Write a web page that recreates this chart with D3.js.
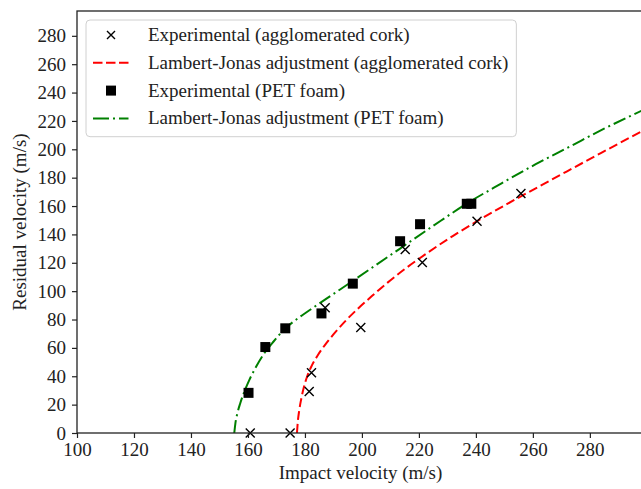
<!DOCTYPE html>
<html>
<head>
<meta charset="utf-8">
<script src="https://cdn.jsdelivr.net/npm/d3@7"></script>
<style>
  body { margin: 0; background: #fff; }
  svg text { font-family: "Liberation Serif", "Times New Roman", Times, "DejaVu Serif", serif; fill: #222; }
</style>
</head>
<body>
<div id="chart"></div>
<script>
// valeurs
var xTicks = [100, 120, 140, 160, 180, 200, 220, 240, 260, 280];
var yTicks = [0, 20, 40, 60, 80, 100, 120, 140, 160, 180, 200, 220, 240, 260, 280];

// experimental points (impact, residual)
var corkExp = [[160.8, 0], [174.8, 0], [181.5, 29.3], [182.3, 42.5], [187.1, 88.3],
  [199.6, 74.4], [215.2, 129.3], [221.2, 120.2], [240.4, 149.3], [255.8, 168.8]];
var petExp = [[160.2, 28.3], [166.1, 60.6], [173.1, 73.8], [185.8, 84.3], [196.8, 105.3],
  [213.4, 135.2], [220.4, 147.2], [236.8, 161.6], [238.4, 161.6]];

// Lambert-Jonas curves, points
var corkFit = [[177.2, 0], [177.5, 8], [178, 16], [178.7, 24], [179.6, 32], [180.8, 40],
  [182.4, 47.5], [184.4, 54.5], [187, 62], [190, 69.5], [194, 78.5], [198.5, 87.5],
  [203.5, 96.5], [209, 106], [215, 115.5], [223, 127], [232, 139], [241, 150],
  [251, 161.5], [261, 172.5], [272, 184.5], [284, 197.5], [299, 213.5]];
var petFit = [[155.2, 0], [155.6, 7], [156.3, 14], [157.3, 21], [158.7, 29], [160.5, 37.5],
  [162.8, 46.5], [165.5, 55.5], [169, 64.5], [173, 73.5], [178, 81.5], [183, 88.5],
  [190, 98], [197, 107.5], [205, 118.5], [213, 129.5], [225, 146], [237, 162],
  [249, 176], [261, 189.5], [273, 202], [285, 214.5], [299, 228]];

var legendLabels = ["Experimental (agglomerated cork)", "Lambert-Jonas adjustment (agglomerated cork)",
  "Experimental (PET foam)", "Lambert-Jonas adjustment (PET foam)"];

var W = 641, H = 489;
var margin = {top: 11, left: 77, bottom: 56};
var plotRight = 644; // le cadre depasse l'image a droite
var serif = "'Liberation Serif', 'Times New Roman', Times, 'DejaVu Serif', serif";
var fs = 19;

var x = d3.scaleLinear().domain([100, 299]).range([margin.left, plotRight]);
var y = d3.scaleLinear().domain([0, 297.5]).range([H - margin.bottom, margin.top]);

var svg = d3.select("#chart").append("svg")
  .attr("width", W).attr("height", H)
  .attr("font-family", serif)
  .style("display", "block");

var ink = "#222";

// curves
var line = d3.line()
  .x(function(d) { return x(d[0]); })
  .y(function(d) { return y(d[1]); })
  .curve(d3.curveMonotoneX);

svg.append("path").datum(petFit)
  .attr("d", line).attr("fill", "none")
  .attr("stroke", "#008000").attr("stroke-width", 2)
  .attr("stroke-dasharray", "13,4,2,4");

svg.append("path").datum(corkFit)
  .attr("d", line).attr("fill", "none")
  .attr("stroke", "#ff0000").attr("stroke-width", 2)
  .attr("stroke-dasharray", "9,4");

// markers
function cross(g, cx, cy, r) {
  g.append("path")
    .attr("d", "M" + (cx - r) + "," + (cy - r) + "L" + (cx + r) + "," + (cy + r) +
      "M" + (cx - r) + "," + (cy + r) + "L" + (cx + r) + "," + (cy - r))
    .attr("stroke", "#000").attr("stroke-width", 1.4).attr("fill", "none");
}

var sq = 10;
svg.append("g").selectAll("rect").data(petExp).enter().append("rect")
  .attr("x", function(d) { return x(d[0]) - sq / 2; })
  .attr("y", function(d) { return y(d[1]) - sq / 2; })
  .attr("width", sq).attr("height", sq).attr("fill", "#000");

var gx = svg.append("g");
corkExp.forEach(function(d) { cross(gx, x(d[0]), y(d[1]), 4.5); });

// axes
var xAxis = d3.axisBottom(x).tickValues(xTicks).tickSize(5).tickPadding(5).tickFormat(d3.format("d"));
var yAxis = d3.axisLeft(y).tickValues(yTicks).tickSize(5).tickPadding(6).tickFormat(d3.format("d"));

var gxa = svg.append("g").attr("transform", "translate(0," + y(0) + ")").call(xAxis);
var gya = svg.append("g").attr("transform", "translate(" + margin.left + ",0)").call(yAxis);
[gxa, gya].forEach(function(g) {
  g.attr("font-family", serif).attr("font-size", fs);
  g.select(".domain").remove();
  g.selectAll(".tick line").attr("stroke", ink).attr("stroke-width", 1.2);
  g.selectAll(".tick text").attr("fill", ink);
});

// cadre (haut, gauche, bas, droite)
svg.append("rect")
  .attr("x", margin.left).attr("y", y.range()[1])
  .attr("width", plotRight - margin.left).attr("height", y.range()[0] - y.range()[1])
  .attr("fill", "none").attr("stroke", ink).attr("stroke-width", 1.3);

// axis titles
svg.append("text")
  .attr("x", (margin.left + plotRight) / 2).attr("y", 479)
  .attr("text-anchor", "middle").attr("font-size", fs)
  .text("Impact velocity (m/s)");

svg.append("text")
  .attr("transform", "translate(26," + ((y.range()[0] + y.range()[1]) / 2) + ") rotate(-90)")
  .attr("text-anchor", "middle").attr("font-size", fs)
  .text("Residual velocity (m/s)");

// legend
var lg = svg.append("g");
var lx = 86, ly = 20, rowH = 27.8, textX = 148;
var box = lg.append("rect")
  .attr("x", lx).attr("y", ly).attr("rx", 4).attr("ry", 4)
  .attr("fill", "#fff").attr("fill-opacity", 0.9)
  .attr("stroke", "#d0d0d0").attr("stroke-width", 1);

var maxW = 0;
legendLabels.forEach(function(lab, i) {
  var cy = ly + 15 + i * rowH;
  var t = lg.append("text").attr("x", textX).attr("y", cy + 6)
    .attr("font-size", fs).text(lab);
  maxW = Math.max(maxW, t.node().getComputedTextLength());
  if (i === 0) cross(lg, 111, cy, 4);
  if (i === 1) lg.append("line").attr("x1", 93).attr("x2", 128.5).attr("y1", cy).attr("y2", cy)
    .attr("stroke", "#ff0000").attr("stroke-width", 2).attr("stroke-dasharray", "9.5,3.5");
  if (i === 2) lg.append("rect").attr("x", 111 - 5).attr("y", cy - 5)
    .attr("width", 10).attr("height", 10).attr("fill", "#000");
  if (i === 3) lg.append("line").attr("x1", 93).attr("x2", 128.5).attr("y1", cy).attr("y2", cy)
    .attr("stroke", "#008000").attr("stroke-width", 2).attr("stroke-dasharray", "16,4,2,4");
});
box.attr("width", textX + maxW + 8 - lx).attr("height", 116.7);
</script>
</body>
</html>
